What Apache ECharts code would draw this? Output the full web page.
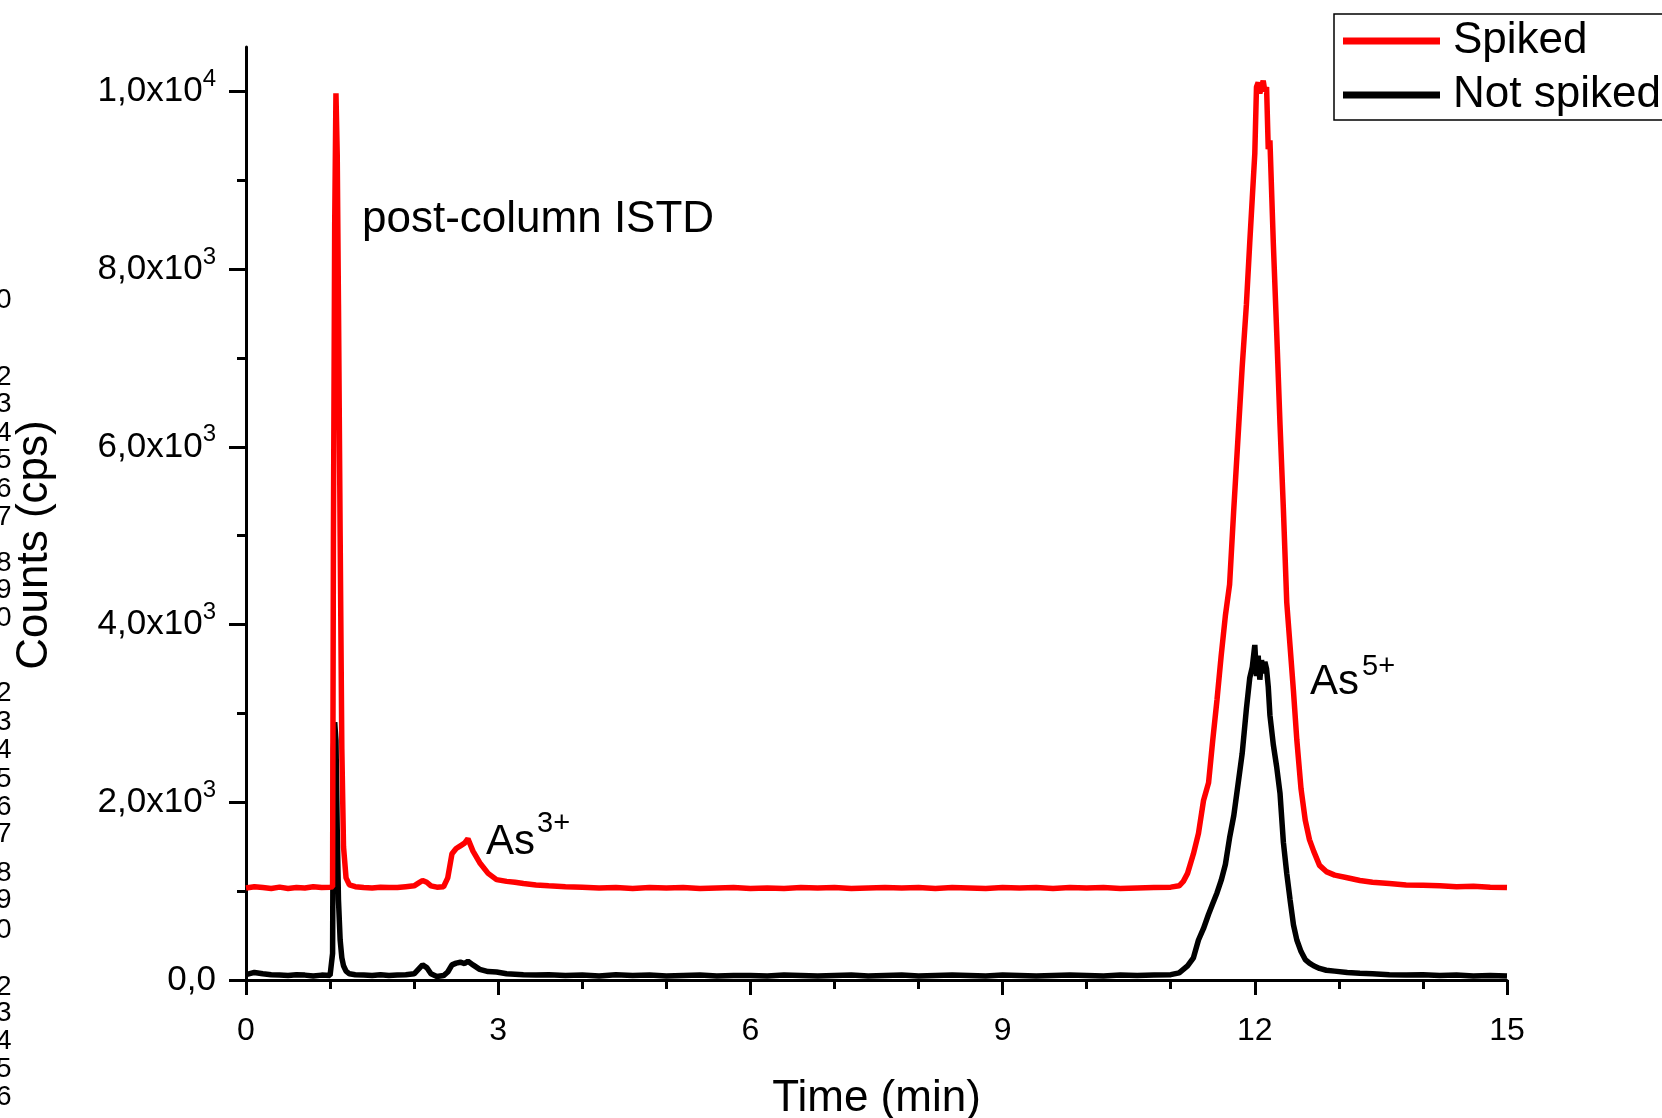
<!DOCTYPE html>
<html>
<head>
<meta charset="utf-8">
<script src="https://cdn.jsdelivr.net/npm/echarts@6/dist/echarts.min.js"></script>
<style>
html,body{margin:0;padding:0;background:#fff;overflow:hidden;}
#chart{width:1662px;height:1118px;}
</style>
</head>
<body>
<div id="chart"></div>
<script>
// ---- data ----
const times = [
  0.0,0.1,0.2,0.3,0.4,0.5,0.6,0.7,0.8,0.9,1.0,
  1.02,1.03,1.04,1.055,1.07,1.085,1.10,1.12,1.14,1.16,1.19,1.23,
  1.3,1.4,1.5,1.6,1.7,1.8,1.9,2.0,2.05,2.1,2.15,2.2,2.27,2.35,
  2.4,2.45,2.5,2.55,2.6,2.64,2.7,2.78,2.88,2.98,3.1,3.2,3.3,3.45,3.6,3.8,
  4.0,4.2,4.4,4.6,4.8,5.0,5.2,5.4,5.6,5.8,6.0,6.2,6.4,6.6,6.8,7.0,7.2,7.4,7.6,7.8,
  8.0,8.2,8.4,8.6,8.8,9.0,9.2,9.4,9.6,9.8,10.0,10.2,10.4,10.6,10.8,11.0,
  11.1,11.15,11.2,11.27,11.33,11.39,11.45,11.5,11.55,11.6,11.65,11.7,11.75,11.8,11.85,11.9,11.94,11.97,
  12.0,12.02,12.04,12.06,12.08,12.1,12.12,12.14,12.16,12.18,12.22,12.26,12.3,12.34,12.38,12.42,12.46,12.5,
  12.55,12.6,12.65,12.7,12.77,12.85,12.95,13.1,13.25,13.4,13.6,13.8,14.0,14.2,14.4,14.6,14.8,15.0
];
const spiked = [
  1035,1050,1040,1030,1045,1030,1040,1035,1050,1040,1045,
  1045,1050,5000,8500,9980,9300,7600,5000,2600,1500,1150,1070,
  1050,1040,1035,1045,1040,1040,1050,1060,1090,1120,1100,1060,1045,1050,
  1150,1420,1480,1510,1540,1590,1450,1320,1200,1130,1110,1100,1085,1070,1060,1050,
  1045,1035,1040,1030,1040,1035,1040,1030,1035,1040,1030,1035,1030,1040,1035,1040,1030,1035,1040,1035,
  1040,1030,1040,1035,1030,1040,1035,1040,1030,1040,1035,1040,1030,1035,1040,1045,
  1060,1110,1200,1420,1650,2020,2220,2700,3150,3650,4100,4450,5300,6100,6900,7600,8300,8800,
  9300,10050,10100,9980,10050,10120,10000,10050,9350,9450,8300,7300,6250,5300,4250,3750,3250,2700,
  2150,1800,1580,1450,1290,1220,1180,1150,1120,1100,1085,1070,1065,1060,1050,1055,1045,1040
];
const notSpiked = [
  60,85,70,60,55,50,60,55,45,55,50,
  60,300,2600,2900,2700,1700,900,450,250,160,100,70,
  60,55,50,60,50,55,60,70,120,170,140,70,40,50,
  90,170,190,200,185,210,170,120,95,90,70,65,60,55,60,50,
  55,45,60,50,55,45,50,55,45,50,50,45,55,50,45,50,55,45,50,55,
  45,50,55,50,45,55,50,45,50,55,50,45,55,50,55,60,
  80,120,160,250,450,580,740,860,980,1120,1300,1600,1850,2200,2550,3050,3400,3520,
  3770,3420,3650,3380,3600,3450,3580,3500,3300,2980,2650,2400,2100,1550,1200,900,620,450,
  320,230,190,160,130,110,100,85,75,70,60,55,60,50,55,45,50,45
];
const seriesNames = ['Spiked', 'Not spiked'];
const xTicks = [0, 3, 6, 9, 12, 15];
const yTicks = [0, 2000, 4000, 6000, 8000, 10000];
const yMinorTicks = [1000, 3000, 5000, 7000, 9000];
const yTickMantissa = ['0,0', '2,0', '4,0', '6,0', '8,0', '1,0'];
const yTickExponent = ['', '3', '3', '3', '3', '4'];
const xTitle = 'Time (min)';
const yTitle = 'Counts (cps)';
const notes = ['post-column ISTD', 'As', '3+', 'As', '5+'];
// clipped column of characters at the left page edge
const edgeGlyphs = '023456789023456789023456';
const edgeY = [300,377,404,433,460,489,517,563,590,618,693,722,750,779,807,834,873,900,930,987,1013,1041,1069,1097];

// ---- chart ----
const FONT = 'Arial, "Liberation Sans", sans-serif';
const chart = echarts.init(document.getElementById('chart'), null, {renderer: 'canvas'});
const pairs = arr => times.map((t, i) => [t, arr[i]]);

const edgeTexts = edgeGlyphs.split('').map((c, i) => ({
  type: 'text', x: -4, y: edgeY[i], silent: true,
  style: {text: c, fontSize: 28, fontFamily: FONT, fill: '#000', verticalAlign: 'middle', textVerticalAlign: 'middle'}
}));

const option = {
  backgroundColor: '#ffffff',
  animation: false,
  grid: {left: 246, right: 155, top: 47, bottom: 138, containLabel: false, outerBoundsMode: 'none'},
  legend: {
    data: seriesNames,
    orient: 'vertical',
    left: 1334, top: 14,
    icon: 'rect',
    itemWidth: 97, itemHeight: 7,
    itemGap: 8,
    padding: [4, 30, 2, 9],
    borderColor: '#000', borderWidth: 1.5,
    textStyle: {fontSize: 44, color: '#000', fontFamily: FONT, lineHeight: 46, padding: [0, 0, 0, 8]}
  },
  xAxis: {
    type: 'value', min: 0, max: 15, interval: 3,
    axisLine: {lineStyle: {color: '#000', width: 3}},
    axisTick: {length: 15, lineStyle: {color: '#000', width: 3}, customValues: xTicks},
    minorTick: {show: true, splitNumber: 3, length: 9, lineStyle: {color: '#000', width: 3}},
    splitLine: {show: false},
    axisLabel: {fontSize: 32, color: '#000', fontFamily: FONT, margin: 35, customValues: xTicks},
    name: xTitle, nameLocation: 'middle', nameGap: 97,
    nameTextStyle: {fontSize: 44, color: '#000', fontFamily: FONT}
  },
  yAxis: [{
    type: 'value', min: 0, max: 10500, interval: 2000,
    axisLine: {show: true, lineStyle: {color: '#000', width: 3}},
    axisTick: {show: true, length: 17, lineStyle: {color: '#000', width: 3}, customValues: yTicks},
    splitLine: {show: false},
    axisLabel: {
      margin: 30, customValues: yTicks,
      formatter: v => {
        const i = yTicks.indexOf(v);
        return yTickExponent[i] ? '{m|' + yTickMantissa[i] + 'x10}{e|' + yTickExponent[i] + '}' : '{m|' + yTickMantissa[i] + '}';
      },
      rich: {
        m: {fontSize: 35, color: '#000', fontFamily: FONT, lineHeight: 48},
        e: {fontSize: 24, color: '#000', fontFamily: FONT, lineHeight: 24, verticalAlign: 'top'}
      }
    }
  }, {
    type: 'value', min: 0, max: 10500, position: 'left',
    axisLine: {show: false},
    axisLabel: {show: false},
    splitLine: {show: false},
    axisTick: {show: true, length: 9, lineStyle: {color: '#000', width: 3}, customValues: yMinorTicks}
  }],
  series: [
    {name: seriesNames[1], type: 'line', data: pairs(notSpiked), showSymbol: false, yAxisIndex: 0,
     lineStyle: {color: '#000000', width: 5.5}, itemStyle: {color: '#000000'}, z: 2},
    {name: seriesNames[0], type: 'line', data: pairs(spiked), showSymbol: false, yAxisIndex: 0,
     lineStyle: {color: '#ff0000', width: 5.5}, itemStyle: {color: '#ff0000'}, z: 3}
  ],
  graphic: [
    {type: 'text', x: 35, y: 545, rotation: Math.PI / 2,
     style: {text: yTitle, fontSize: 44, fontFamily: FONT, fill: '#000', align: 'center', verticalAlign: 'middle', textAlign: 'center', textVerticalAlign: 'middle'}},
    {type: 'text', x: 362, y: 220,
     style: {text: notes[0], fontSize: 44, fontFamily: FONT, fill: '#000', verticalAlign: 'middle', textVerticalAlign: 'middle'}},
    {type: 'text', x: 486, y: 842,
     style: {text: notes[1], fontSize: 42, fontFamily: FONT, fill: '#000', verticalAlign: 'middle', textVerticalAlign: 'middle'}},
    {type: 'text', x: 537, y: 824,
     style: {text: notes[2], fontSize: 29, fontFamily: FONT, fill: '#000', verticalAlign: 'middle', textVerticalAlign: 'middle'}},
    {type: 'text', x: 1310, y: 682,
     style: {text: notes[3], fontSize: 42, fontFamily: FONT, fill: '#000', verticalAlign: 'middle', textVerticalAlign: 'middle'}},
    {type: 'text', x: 1362, y: 667,
     style: {text: notes[4], fontSize: 29, fontFamily: FONT, fill: '#000', verticalAlign: 'middle', textVerticalAlign: 'middle'}}
  ].concat(edgeTexts)
};
chart.setOption(option);
</script>
</body>
</html>
